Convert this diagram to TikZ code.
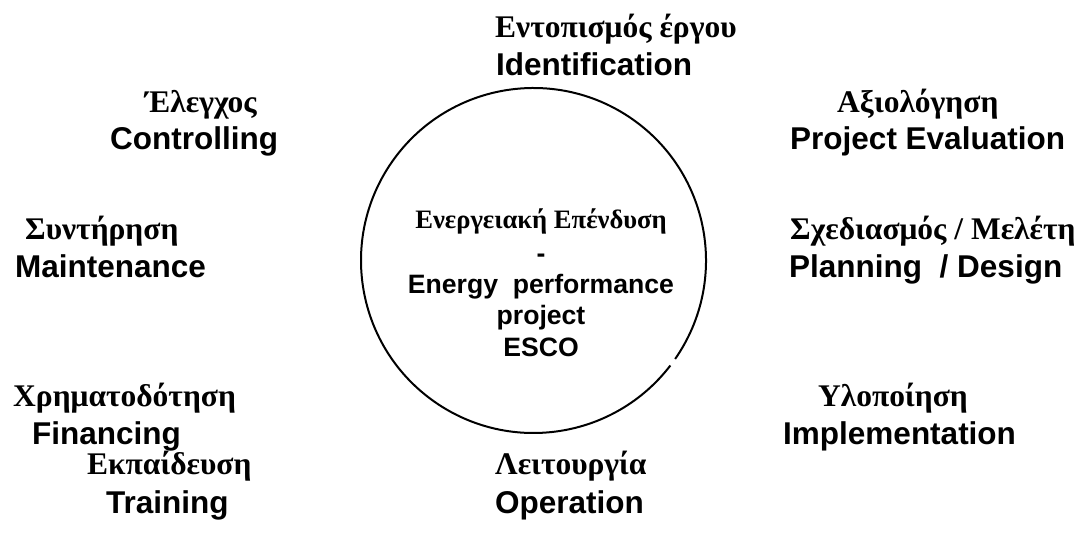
\documentclass[tikz,border=0pt]{standalone}
\usepackage{fontspec}
\setmainfont{Liberation Serif}
\newfontfamily\arialf{Liberation Sans}
\tikzset{
  gr/.style={anchor=base west, inner sep=0pt, font=\bfseries\fontsize{31.5}{31.5}\selectfont},
  en/.style={anchor=base west, inner sep=0pt, font=\arialf\bfseries\fontsize{31.5}{31.5}\selectfont},
  cgr/.style={anchor=base, inner sep=0pt, font=\bfseries\fontsize{26.6}{26.6}\selectfont},
  cen/.style={anchor=base, inner sep=0pt, font=\arialf\bfseries\fontsize{26.6}{26.6}\selectfont},
  ring/.style={line width=2pt, black}
}
\begin{document}
\begin{tikzpicture}[x=1pt,y=-1pt]
\useasboundingbox (0,0) rectangle (1074,540);
\coordinate (c) at (533.5,260.5);
\draw[ring] (c) ++(-34.8:172.5pt) arc[start angle=-34.8, end angle=322.5, radius=172.5pt];
% top
\node[gr] (g1) at (495,38) {Εντοπισμός έργου};
\node[en] (e1) at (496,76) {Identification};
% row 2
\node[gr] (g2) at (145,113) {Έλεγχος};
\node[en] (e2) at (110,150) {Controlling};
\node[gr] (g3) at (837,113) {Αξιολόγηση};
\node[en] (e3) at (790,150) {Project Evaluation};
% row 3
\node[gr] (g4) at (25,240) {Συντήρηση};
\node[en] (e4) at (15,278) {Maintenance};
\node[gr] (g5) at (790,240) {Σχεδιασμός / Μελέτη};
\node[en] (e5) at (789,278) {Planning~ / Design};
% row 4
\node[gr] (g6) at (13,406) {Χρηματοδότηση};
\node[en] (e6) at (32,444) {Financing};
\node[gr] (g7) at (818,406) {Υλοποίηση};
\node[en] (e7) at (783,444) {Implementation};
% row 5
\node[gr] (g8) at (87,474) {Εκπαίδευση};
\node[en] (e8) at (106,513) {Training};
\node[gr] (g9) at (495,474) {Λειτουργία};
\node[en] (e9) at (495,513) {Operation};
% center
\node[cgr] (m1) at (541,229) {Ενεργειακή Επένδυση};
\node[cen] (m2) at (541,262) {-};
\node[cen] (m3) at (541,294) {Energy~ performance};
\node[cen] (m4) at (541,324) {project};
\node[cen] (m5) at (541,356) {ESCO};
\end{tikzpicture}
\end{document}
